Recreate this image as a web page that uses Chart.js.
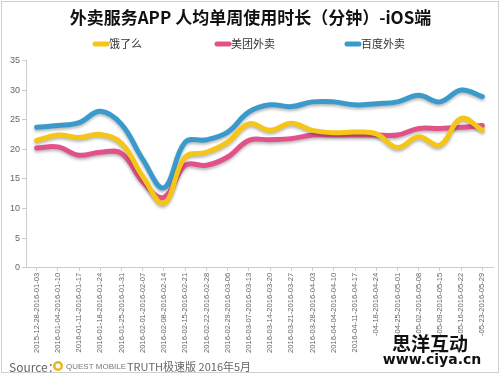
<!DOCTYPE html>
<html lang="zh">
<head>
<meta charset="UTF-8">
<title>外卖服务APP 人均单周使用时长</title>
<script src="https://cdn.jsdelivr.net/npm/chart.js@4.4.0/dist/chart.umd.min.js"></script>
<style>
    body{margin:0; background:#fff;}
    #wrap{width:500px; height:375px;}
</style>
</head>
<body>
<div id="wrap"><canvas id="myChart" width="500" height="375"></canvas></div>
<script>
// 周 (category labels, as printed on the axis)
const weeks = [
    '2015-12-28-2016-01-03','2016-01-04-2016-01-10','2016-01-11-2016-01-17','2016-01-18-2016-01-24',
    '2016-01-25-2016-01-31','2016-02-01-2016-02-07','2016-02-08-2016-02-14','2016-02-15-2016-02-21',
    '2016-02-22-2016-02-28','2016-02-29-2016-03-06','2016-03-07-2016-03-13','2016-03-14-2016-03-20',
    '2016-03-21-2016-03-27','2016-03-28-2016-04-03','2016-04-04-2016-04-10','2016-04-11-2016-04-17',
    '-04-18-2016-04-24','-04-25-2016-05-01','-05-02-2016-05-08','-05-09-2016-05-15',
    '-05-16-2016-05-22','-05-23-2016-05-29'
]
const seriesNames = ['饿了么','美团外卖','百度外卖']
const eleme   = [21.5,22.4,22.0,22.5,21.0,15.4,10.9,18.7,19.5,21.2,24.3,23.2,24.4,23.2,22.8,22.9,22.6,20.3,22.1,20.7,25.2,23.2]
const meituan = [20.2,20.4,19.0,19.5,19.3,14.5,11.9,17.3,17.3,18.7,21.5,21.6,21.8,22.4,22.4,22.4,22.4,22.4,23.5,23.5,23.7,24.0]
const baidu   = [23.7,24.0,24.5,26.4,24.2,18.3,13.5,21.2,21.6,22.9,26.3,27.5,27.2,28.0,28.0,27.5,27.7,28.0,29.1,28.0,30.0,28.9]
const yTicks  = [0,5,10,15,20,25,30,35]

const colors = ['#f5c518','#e2528a','#3a9acb']
const cjk = '"Noto Sans CJK SC", "Noto Sans", sans-serif'

function ds(i, data){
    return {
        label: seriesNames[i], data: data,
        borderColor: colors[i], backgroundColor: colors[i],
        borderWidth: 5, borderCapStyle: 'round', borderJoinStyle: 'round',
        pointRadius: 0, tension: 0.4, fill: false
    }
}

// soft shadow under each line
const shadowPlugin = {
    id: 'shadow',
    beforeDatasetDraw(chart){
        const c = chart.ctx
        c.save()
        c.shadowColor = 'rgba(0,0,0,0.28)'
        c.shadowBlur = 3
        c.shadowOffsetY = 2
    },
    afterDatasetDraw(chart){ chart.ctx.restore() }
}

// legend + source line + watermark
const decoPlugin = {
    id: 'deco',
    afterDraw(chart){
        const c = chart.ctx
        c.save()
        // legend
        const legX = [93, 215, 345]
        c.font = '11px ' + cjk
        c.textBaseline = 'middle'
        chart.data.datasets.forEach((d, i) => {
            c.strokeStyle = d.borderColor
            c.lineWidth = 5
            c.lineCap = 'round'
            c.beginPath(); c.moveTo(legX[i] + 2, 44); c.lineTo(legX[i] + 14, 44); c.stroke()
            c.fillStyle = '#333'
            c.textAlign = 'left'
            c.fillText(d.label, legX[i] + 16, 44)
        })
        // source
        c.fillStyle = '#666'
        c.font = '12px ' + cjk
        c.fillText('Source：', 9, 367)
        c.beginPath(); c.arc(58, 366, 5, 0, Math.PI * 2)
        c.fillStyle = '#e8b820'; c.fill()
        c.beginPath(); c.arc(58, 366, 2.5, 0, Math.PI * 2)
        c.fillStyle = '#fff'; c.fill()
        c.fillStyle = '#777'
        c.font = '8px "Liberation Sans", sans-serif'
        c.fillText('QUEST MOBILE', 66, 367)
        c.font = '11px ' + cjk
        c.fillStyle = '#666'
        c.fillText('TRUTH极速版 2016年5月', 127, 367)
        // watermark
        c.textAlign = 'center'
        c.font = 'bold 19px ' + cjk
        c.fillStyle = '#111'
        c.fillText('思洋互动', 430, 344)
        c.font = 'bold 14px "DejaVu Sans", sans-serif'
        c.lineWidth = 3; c.strokeStyle = '#fff'
        c.strokeText('www.ciya.cn', 432, 360)
        c.fillText('www.ciya.cn', 432, 360)
        // frame
        c.strokeStyle = '#cfcfcf'; c.lineWidth = 1
        c.strokeRect(1.5, 1.5, 497, 371)
        c.restore()
    }
}

const ctx = document.getElementById('myChart').getContext('2d')
const myChart = new Chart(ctx, {
    type: 'line',
    data: {
        labels: weeks,
        datasets: [ds(0, eleme), ds(1, meituan), ds(2, baidu)]
    },
    options: {
        responsive: false,
        animation: false,
        layout: { padding: { left: 8, right: 7, bottom: 20, top: 0 } },
        plugins: {
            legend: { display: false },
            tooltip: { enabled: false },
            title: {
                display: true,
                text: '外卖服务APP 人均单周使用时长（分钟）-iOS端',
                color: '#111',
                font: { family: cjk, size: 17, weight: 'bold' },
                padding: { top: 7, bottom: 33 }
            }
        },
        scales: {
            x: {
                offset: true,
                grid: { drawOnChartArea: false, drawTicks: true, tickLength: 3, color: '#ccc' },
                border: { color: '#ccc' },
                ticks: {
                    autoSkip: false, minRotation: 90, maxRotation: 90, padding: 2,
                    color: '#666', font: { family: '"Liberation Sans", sans-serif', size: 7.6 }
                }
            },
            y: {
                min: 0, max: 35,
                afterBuildTicks(axis){ axis.ticks = yTicks.map(v => ({ value: v })) },
                grid: { drawOnChartArea: false, drawTicks: true, tickLength: 4, color: '#ccc' },
                border: { color: '#ccc' },
                ticks: { padding: 2, color: '#666', font: { family: '"Liberation Sans", sans-serif', size: 9 } }
            }
        }
    },
    plugins: [shadowPlugin, decoPlugin]
})
</script>
</body>
</html>
